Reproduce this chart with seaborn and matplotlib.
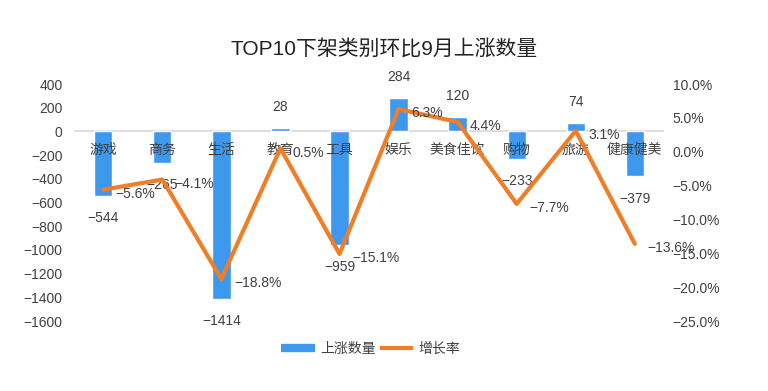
import numpy as np
import matplotlib
matplotlib.use("Agg")
import matplotlib.pyplot as plt
import seaborn as sns
from matplotlib.lines import Line2D

# data
categories = ["游戏", "商务", "生活", "教育", "工具", "娱乐", "美食佳饮", "购物", "旅游", "健康健美"]
counts = [-544, -265, -1414, 28, -959, 284, 120, -233, 74, -379]
rates = [-5.6, -4.1, -18.8, 0.5, -15.1, 6.3, 4.4, -7.7, 3.1, -13.6]
left_ticks = list(range(-1600, 401, 200))
right_ticks = [-25, -20, -15, -10, -5, 0, 5, 10]

sns.set_theme(style="white")
plt.rcParams["font.family"] = ["Liberation Sans", "Noto Sans CJK SC", "DejaVu Sans"]
plt.rcParams["axes.unicode_minus"] = True

BLUE = "#3D98EE"
ORANGE = "#F07E26"
TXT = "#404040"

fig = plt.figure(figsize=(7.68, 3.91), dpi=100)
ax = fig.add_axes([0.096, 0.179, 0.769, 0.606])

sns.barplot(x=categories, y=counts, color=BLUE, width=0.31, saturation=1, ax=ax)
ax.set_ylim(-1600, 400)
ax.set_xlim(-0.5, len(categories) - 0.5)
ax.set_yticks(left_ticks)
ax.set_yticklabels([str(v).replace("-", "\u2212") for v in left_ticks], color=TXT, fontsize=10)
ax.set_xticks([])
ax.set_xlabel("")
ax.set_ylabel("")
ax.axhline(0, color="#d9d9d9", lw=1.2, zorder=0)
for s in ax.spines.values():
    s.set_visible(False)
ax.tick_params(axis="y", length=0, pad=8)

# category names just under the zero line
for i, c in enumerate(categories):
    ax.annotate(c, (i, 0), xytext=(0, -8), textcoords="offset points",
                ha="center", va="top", fontsize=10, color=TXT)

# bar value labels
for i, v in enumerate(counts):
    off = 10 if v >= 0 else -11
    ax.annotate(str(v).replace("-", "\u2212"), (i, v), xytext=(0, off),
                textcoords="offset points", ha="center",
                va="bottom" if v >= 0 else "top", fontsize=10, color=TXT)

ax2 = ax.twinx()
sns.lineplot(x=np.arange(len(categories)), y=rates, color=ORANGE, lw=3, ax=ax2)
ax2.set_ylim(-25, 10)
ax2.set_yticks(right_ticks)
ax2.set_yticklabels([f"{v:.1f}%".replace("-", "\u2212") for v in right_ticks], color=TXT, fontsize=10)
ax2.tick_params(axis="y", length=0, pad=6)
for s in ax2.spines.values():
    s.set_visible(False)
ax2.grid(False)

for i, r in enumerate(rates):
    ax2.annotate(f"{r:.1f}%".replace("-", "\u2212"), (i, r), xytext=(9, -3),
                 textcoords="offset points", ha="left", va="center",
                 fontsize=10, color=TXT)

fig.suptitle("TOP10下架类别环比9月上涨数量", y=0.90, fontsize=15, color="#222222")

handles = [Line2D([], [], color=BLUE, lw=6, solid_capstyle="butt"),
           Line2D([], [], color=ORANGE, lw=3, solid_capstyle="butt")]
fig.legend(handles, ["上涨数量", "增长率"], loc="center", bbox_to_anchor=(0.483, 0.107),
           ncol=2, frameon=False, fontsize=10, handlelength=2.4,
           columnspacing=0.3, handletextpad=0.4, labelcolor=TXT)

fig.savefig("out.png", dpi=100)
